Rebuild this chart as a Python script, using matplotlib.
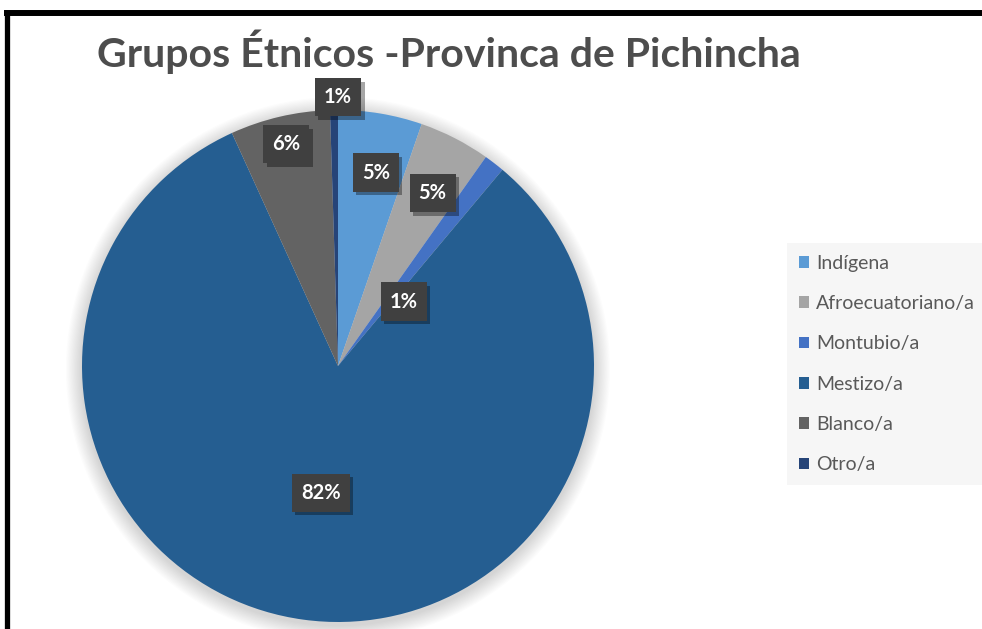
import matplotlib
matplotlib.use("Agg")
import numpy as np
import matplotlib.pyplot as plt
import matplotlib.patheffects as pe
from matplotlib.patches import Circle
from matplotlib.lines import Line2D

# Pichincha ethnic groups (share of population, %)
GROUPS = ["Indígena", "Afroecuatoriano/a", "Montubio/a", "Mestizo/a", "Blanco/a", "Otro/a"]
SHARES = [5.3, 4.5, 1.3, 82.1, 6.3, 0.5]
COLORS = ["#5B9BD5", "#A5A5A5", "#4472C4", "#255E91", "#636363", "#264478"]

TITLE = "Grupos Étnicos -Provinca de Pichincha"

# label placement: radial distance (fraction of radius) and angle tweak (deg)
LABEL_R = [0.77, 0.77, 0.36, 0.50, 0.89, 1.05]
LABEL_DANG = [1.5, 1.5, 8.0, 0.0, 0.0, 0.9]

plt.rcParams["font.family"] = ["Lato", "DejaVu Sans"]

W, H = 982, 629
fig = plt.figure(figsize=(W / 100, H / 100), dpi=100)
fig.patch.set_facecolor("white")

cx, cy, R = 338, 366, 256
ax = fig.add_axes([(cx - R) / W, (H - cy - R) / H, 2 * R / W, 2 * R / H])
ax.set_xlim(-1, 1)
ax.set_ylim(-1, 1)
ax.set_aspect("equal")
ax.axis("off")

# soft shadow behind the pie
for k in range(14):
    ax.add_patch(Circle((0.0, -0.012), 1.0 + 0.0045 * (14 - k), facecolor="black",
                        edgecolor="none", alpha=0.012, zorder=0, clip_on=False))

wedges, _ = ax.pie(SHARES, colors=COLORS, startangle=90, counterclock=False,
                   radius=1.0, wedgeprops=dict(linewidth=0), frame=False)
for w in wedges:
    w.set_zorder(2)
ax.set_xlim(-1, 1)
ax.set_ylim(-1, 1)

# data labels (Excel-style half-up rounding)
cum = np.cumsum([0] + SHARES[:-1])
total = sum(SHARES)
for i, v in enumerate(SHARES):
    mid = (cum[i] + v / 2) / total * 360 + LABEL_DANG[i]
    ang = np.deg2rad(90 - mid)
    x, y = LABEL_R[i] * np.cos(ang), LABEL_R[i] * np.sin(ang)
    pct = int(np.floor(v / total * 100 + 0.5))
    t = ax.text(x, y, f"{pct}%", ha="center", va="center", fontsize=14.5,
                fontweight="bold", color="white", zorder=5, clip_on=False,
                bbox=dict(boxstyle="square,pad=0.45", facecolor="#404040",
                          edgecolor="none"))
    t.get_bbox_patch().set_path_effects([
        pe.SimplePatchShadow(offset=(2.5, -2.5), shadow_rgbFace="black", alpha=0.35),
        pe.Normal()])

fig.text(97 / W, 1 - 52 / H, TITLE, ha="left", va="center", fontsize=29.5,
         fontweight="bold", color="#4D4D4D")

leg = fig.legend(wedges, GROUPS, loc="upper left",
                 bbox_to_anchor=(787 / W, 1 - 243 / H), fontsize=14,
                 frameon=True, fancybox=False, facecolor="#F6F6F6",
                 edgecolor="none", framealpha=1, handlelength=0.55,
                 handleheight=0.55, handletextpad=0.35, labelspacing=1.2,
                 borderpad=0.6, borderaxespad=0)
for txt in leg.get_texts():
    txt.set_color("#595959")

# black frame on left and top
fig.add_artist(Line2D([6.5 / W, 6.5 / W], [0, 1 - 10 / H], color="black",
                      linewidth=3.8, transform=fig.transFigure, solid_capstyle="butt"))
fig.add_artist(Line2D([4 / W, 1], [1 - 13 / H, 1 - 13 / H], color="black",
                      linewidth=4.3, transform=fig.transFigure, solid_capstyle="butt"))

fig.savefig("out.png", dpi=100)
